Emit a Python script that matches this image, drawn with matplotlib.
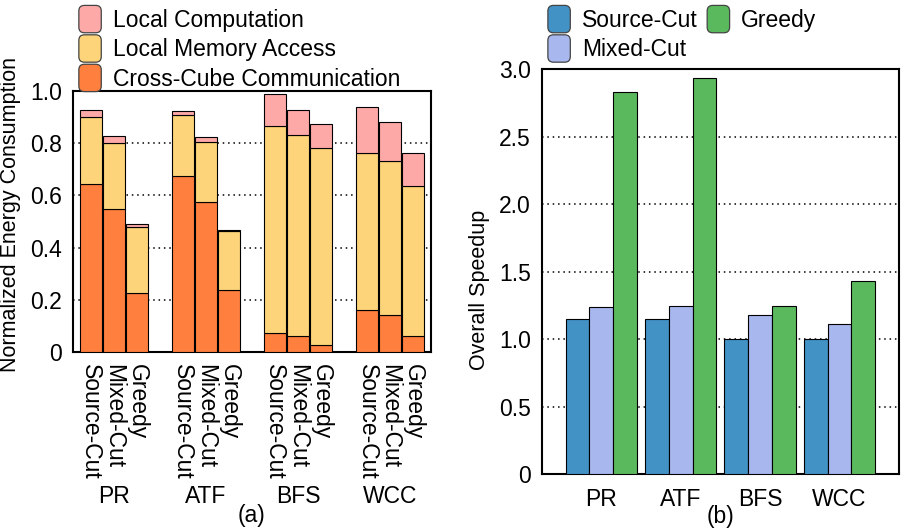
import numpy as np
import matplotlib
matplotlib.use('Agg')
import matplotlib.pyplot as plt
from matplotlib.patches import FancyBboxPatch, Patch
from matplotlib.legend_handler import HandlerPatch
from matplotlib.ticker import FuncFormatter

plt.rcParams['font.family'] = ['Liberation Sans', 'DejaVu Sans']
plt.rcParams['font.size'] = 16.5

workloads = ['PR', 'ATF', 'BFS', 'WCC']
schemes = ['Source-Cut', 'Mixed-Cut', 'Greedy']

# (a) normalized energy, per workload: [Source-Cut, Mixed-Cut, Greedy]
cross_cube = [[0.642, 0.547, 0.227],
              [0.673, 0.573, 0.237],
              [0.074, 0.063, 0.026],
              [0.161, 0.142, 0.063]]
local_mem = [[0.257, 0.254, 0.251],
             [0.234, 0.230, 0.225],
             [0.791, 0.767, 0.754],
             [0.603, 0.588, 0.574]]
local_comp = [[0.028, 0.025, 0.011],
              [0.018, 0.019, 0.007],
              [0.125, 0.098, 0.092],
              [0.176, 0.152, 0.127]]

# (b) overall speedup
speedup_source = [1.147, 1.151, 1.0, 1.0]
speedup_mixed = [1.240, 1.245, 1.176, 1.112]
speedup_greedy = [2.832, 2.933, 1.248, 1.431]

c_comp = '#fca9a8'
c_mem = '#fdd47a'
c_cross = '#ff7f3e'
c_src = '#4292c6'
c_mix = '#a8b8ee'
c_grd = '#5bb95d'


class RoundHandler(HandlerPatch):
    def create_artists(self, legend, orig_handle, xdescent, ydescent,
                       width, height, fontsize, trans):
        p = FancyBboxPatch((-xdescent + 1, -ydescent - 3), width - 2, height + 6,
                           boxstyle='round,pad=0,rounding_size=4',
                           fc=orig_handle.get_facecolor(), ec='#444444',
                           lw=0.9, transform=trans)
        return [p]


fig = plt.figure(figsize=(9.02, 5.29), dpi=100)

# ---- (a) ----
ax0 = fig.add_axes([0.0809, 0.3346, 0.3969, 0.4934])
xs = []
for g in range(4):
    for s in range(3):
        xs.append(4 * g + s)
xs = np.array(xs)
cc = np.array(cross_cube).ravel()
lm = np.array(local_mem).ravel()
lc = np.array(local_comp).ravel()
w = 0.92
ax0.bar(xs, cc, w, color=c_cross, edgecolor='black', linewidth=0.8, zorder=3)
ax0.bar(xs, lm, w, bottom=cc, color=c_mem, edgecolor='black', linewidth=0.8, zorder=3)
ax0.bar(xs, lc, w, bottom=cc + lm, color=c_comp, edgecolor='black', linewidth=0.8, zorder=3)
ax0.set_xlim(-0.78, 14.78)
ax0.set_ylim(0, 1.0)
ax0.set_yticks([0, 0.2, 0.4, 0.6, 0.8, 1.0])
ax0.yaxis.set_major_formatter(FuncFormatter(lambda v, p: '0' if v == 0 else '%.1f' % v))
ax0.set_xticks(xs)
ax0.set_xticklabels(schemes * 4, rotation=-90, va='top', ha='center')
ax0.tick_params(length=0, pad=8)
ax0.tick_params(axis='x', pad=9)
ax0.grid(axis='y', linestyle=(0, (1, 2.5)), color='black', linewidth=1.1, zorder=0)
ax0.set_ylabel('Normalized Energy Consumption', fontsize=15.5)
ax0.yaxis.set_label_coords(-0.145, 0.525)
for g, name in enumerate(workloads):
    ax0.text(4 * g + 1, -0.555, name, transform=ax0.get_xaxis_transform(),
             ha='center', va='center')
ax0.text(0.5, -0.628, '(a)', transform=ax0.transAxes, ha='center', va='center')
for sp in ax0.spines.values():
    sp.set_linewidth(1.5)

h0 = [Patch(facecolor=c_comp), Patch(facecolor=c_mem), Patch(facecolor=c_cross)]
fig.legend(h0, ['Local Computation', 'Local Memory Access', 'Cross-Cube Communication'],
           loc='upper left', bbox_to_anchor=(0.063, 1.022), frameon=False,
           handler_map={Patch: RoundHandler()}, handlelength=1.1, handleheight=0.9,
           handletextpad=0.45, labelspacing=0.28)

# ---- (b) ----
ax1 = fig.add_axes([0.6006, 0.104, 0.3961, 0.765])
x = np.arange(4)
bw = 0.299
ax1.bar(x - bw, speedup_source, bw, color=c_src, edgecolor='black', linewidth=0.8, zorder=3)
ax1.bar(x, speedup_mixed, bw, color=c_mix, edgecolor='black', linewidth=0.8, zorder=3)
ax1.bar(x + bw, speedup_greedy, bw, color=c_grd, edgecolor='black', linewidth=0.8, zorder=3)
ax1.set_xlim(-0.75, 3.75)
ax1.set_ylim(0, 3.0)
ax1.set_yticks([0, 0.5, 1.0, 1.5, 2.0, 2.5, 3.0])
ax1.yaxis.set_major_formatter(FuncFormatter(lambda v, p: '0' if v == 0 else '%.1f' % v))
ax1.set_xticks(x)
ax1.set_xticklabels(workloads)
ax1.tick_params(length=0, pad=8)
ax1.tick_params(axis='x', pad=10)
ax1.grid(axis='y', linestyle=(0, (1, 2.5)), color='black', linewidth=1.1, zorder=0)
ax1.set_ylabel('Overall Speedup', fontsize=15.5)
ax1.yaxis.set_label_coords(-0.145, 0.455)
ax1.text(0.5, -0.106, '(b)', transform=ax1.transAxes, ha='center', va='center')
for sp in ax1.spines.values():
    sp.set_linewidth(1.5)

h1 = [Patch(facecolor=c_src), Patch(facecolor=c_mix), Patch(facecolor=c_grd)]
fig.legend(h1, schemes, loc='upper left', bbox_to_anchor=(0.583, 1.022), frameon=False,
           ncol=2, handler_map={Patch: RoundHandler()}, handlelength=1.1,
           handleheight=0.9, handletextpad=0.45, labelspacing=0.28, columnspacing=0.35)

fig.savefig('out.png', dpi=100)
